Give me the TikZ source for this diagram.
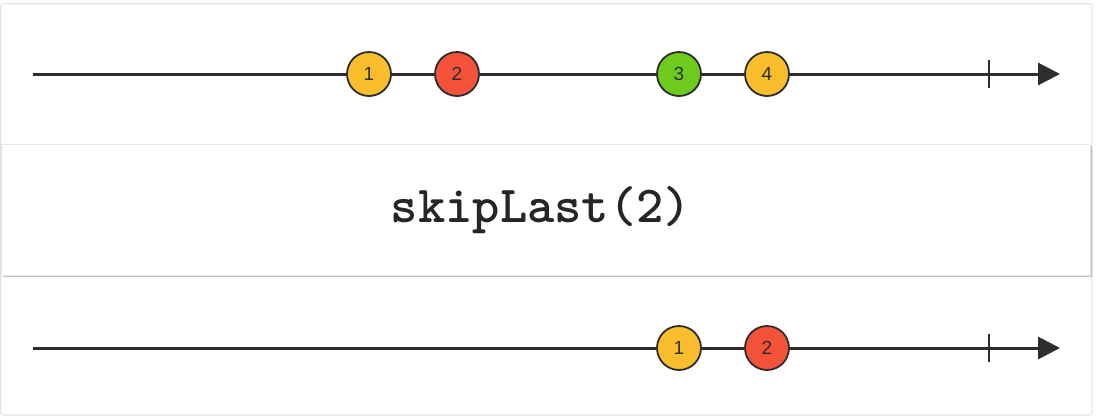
\documentclass[tikz,border=0pt]{standalone}
\usepackage{fontspec}
\setmainfont{Liberation Sans}
\usetikzlibrary{arrows.meta, shadows}
\usepackage{xcolor}
\definecolor{marbleyellow}{RGB}{250,190,45}
\definecolor{marblered}{RGB}{245,82,58}
\definecolor{marblegreen}{RGB}{110,203,30}
\definecolor{inkgray}{RGB}{45,45,45}
\tikzset{
    frame/.style = {draw=black!12, line width=1pt, rounded corners=3pt, fill=white},
    operator/.style = {draw=black!10, line width=0.8pt, fill=white,
        drop shadow={shadow xshift=2pt, shadow yshift=-2pt, fill=black!45, opacity=0.5}},
    timeline/.style = {line width=3pt, draw=inkgray, -{Triangle[length=22pt, width=22pt]}},
    endtick/.style = {line width=2.5pt, draw=inkgray},
    marble/.style = {circle, draw=inkgray, line width=1.8pt, minimum size=44pt, inner sep=0pt,
        text=inkgray, font=\fontsize{19}{19}\selectfont}
}

\begin{document}
\begin{tikzpicture}[x=1pt, y=-1pt]
    \useasboundingbox (0,0) rectangle (1097,418);
    \draw[frame] (0.5,3.5) rectangle (1092,415);

    % source line
    \coordinate (src start) at (33,74);
    \coordinate (src end) at (1060,74);
    \coordinate (src tick) at (989,74);
    \draw[timeline] (src start) -- (src end);
    \draw[endtick] ([yshift=-14pt]src tick) -- ([yshift=14pt]src tick);
    \foreach \x/\n/\c in {369/1/marbleyellow, 457/2/marblered, 679/3/marblegreen, 767/4/marbleyellow}
        \node[marble, fill=\c] (src \n) at (\x,74) {\n};

    % operator box
    \draw[operator] (1,144) rectangle (1090,275);
    \node[font=\ttfamily\bfseries\fontsize{52}{52}\selectfont, text=black!85] (op) at (541,210) {skipLast(2)};

    % result line
    \coordinate (res start) at (33,348);
    \coordinate (res end) at (1060,348);
    \coordinate (res tick) at (989,348);
    \draw[timeline] (res start) -- (res end);
    \draw[endtick] ([yshift=-14pt]res tick) -- ([yshift=14pt]res tick);
    \foreach \x/\n/\c in {679/1/marbleyellow, 767/2/marblered}
        \node[marble, fill=\c] (res \n) at (\x,348) {\n};
\end{tikzpicture}
\end{document}
